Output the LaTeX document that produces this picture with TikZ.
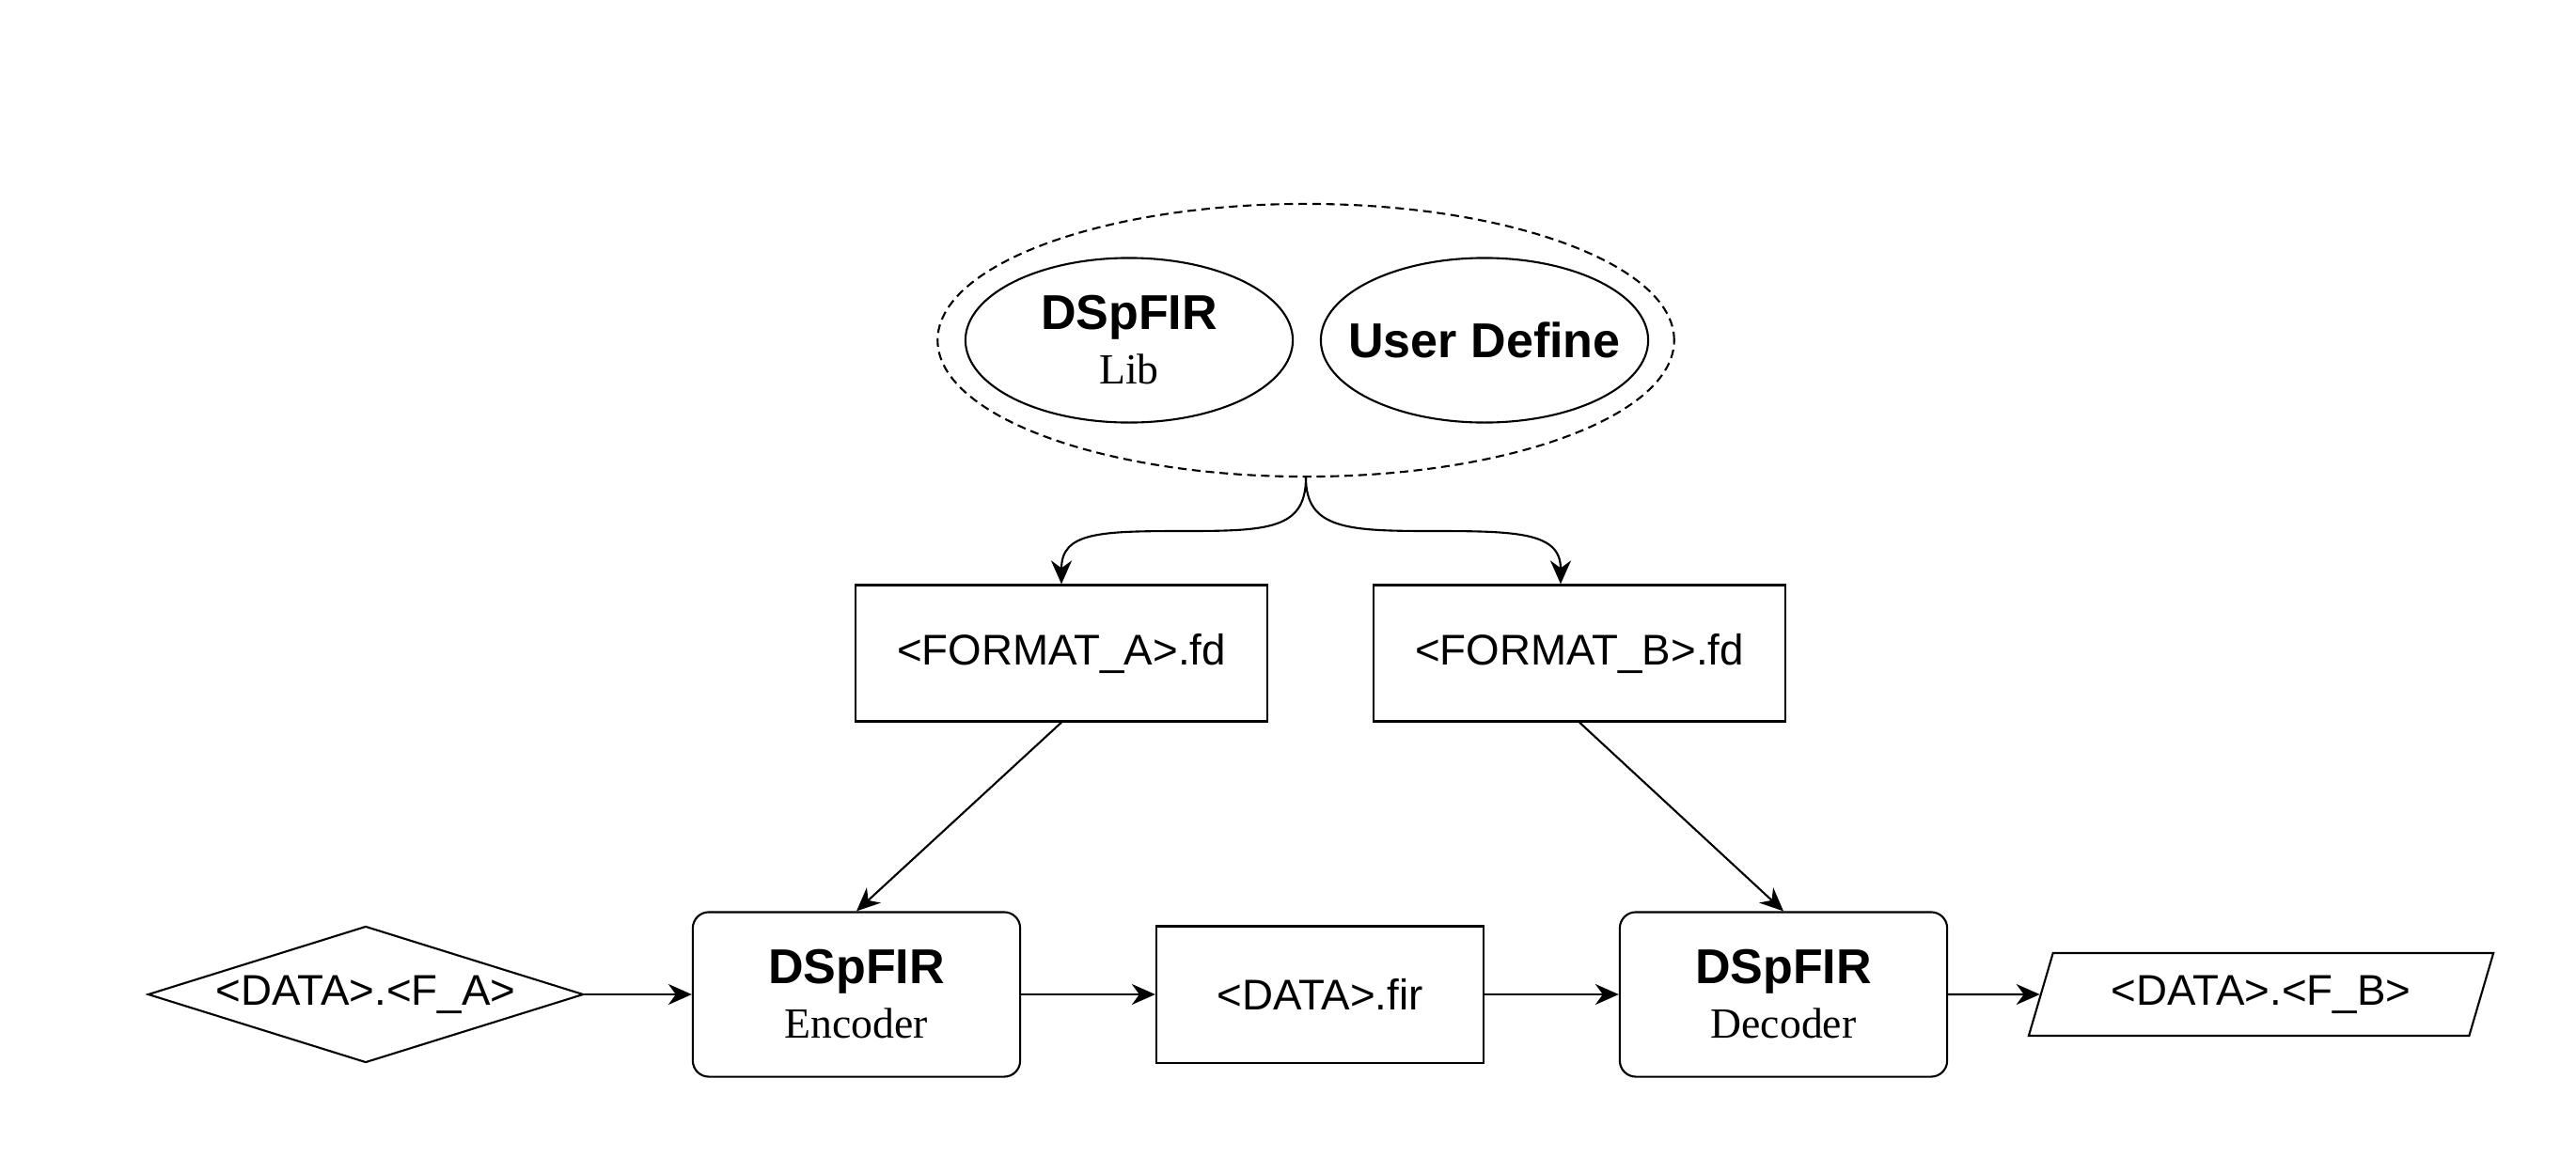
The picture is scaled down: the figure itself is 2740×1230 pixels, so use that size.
\documentclass[tikz,border=0pt]{standalone}
\usepackage{fontspec}
\setmainfont{Liberation Sans}
\newfontfamily\serifface{Liberation Serif}
\usetikzlibrary{shapes,shapes.geometric,arrows.meta}

\begin{document}
\begin{tikzpicture}[x=0.01cm,y=-0.01cm,line width=0.6pt,
		>={Stealth[length=0.25cm,width=0.22cm,inset=0.08cm]},
		every node/.style={font=\fontsize{13}{16.5}\selectfont,align=center,inner sep=0pt},
		libellipse/.style={draw,ellipse,inner xsep=-0.6cm,minimum width=3.48cm,minimum height=1.75cm},
		fdbox/.style={draw,rectangle,minimum width=4.37cm,minimum height=1.45cm},
		codecbox/.style={draw,rectangle,rounded corners=0.17cm,minimum width=3.48cm,minimum height=1.75cm}]
			\useasboundingbox (0,0) rectangle (2740,1230);
			% libraries
			\node[draw,ellipse,dashed,dash pattern=on 2.6pt off 1.6pt,minimum width=7.83cm,minimum height=2.9cm] (libgroup) at (1389,362) {};
			\node[libellipse] (lib) at (1201,362) {{\fontsize{14.8}{16.5}\selectfont\bfseries DSpFIR}\\{\serifface Lib}};
			\node[libellipse] (user) at (1579,362) {\fontsize{14.8}{16.5}\selectfont\bfseries User Define};
			% format descriptions
			\node[fdbox] (fmta) at (1129,695) {<FORMAT\_A>.fd};
			\node[fdbox] (fmtb) at (1680,695) {<FORMAT\_B>.fd};
			\coordinate (benda) at (1259,565);
			\coordinate (bendb) at (1524,565);
			\draw[->] (libgroup.south) .. controls +(0,55) and +(90,0) .. (benda) .. controls +(-90,0) and +(0,-55) .. (fmta.north);
			\draw[->] (libgroup.south) .. controls +(0,55) and +(-90,0) .. (bendb) .. controls +(90,0) and +(0,-55) .. ([xshift=-0.2cm]fmtb.north);
			% data flow
			\node[draw,diamond,aspect=3.19,minimum width=4.63cm,minimum height=1.45cm] (dataa) at (389,1058) {<DATA>.<F\_A>};
			\node[codecbox] (enc) at (911,1058) {{\fontsize{14.8}{16.5}\selectfont\bfseries DSpFIR}\\{\serifface Encoder}};
			\node[draw,rectangle,minimum width=3.48cm,minimum height=1.45cm] (fir) at (1404,1058) {<DATA>.fir};
			\node[codecbox] (dec) at (1897,1058) {{\fontsize{14.8}{16.5}\selectfont\bfseries DSpFIR}\\{\serifface Decoder}};
			\node[draw,trapezium,trapezium left angle=57.5,trapezium right angle=122.5,trapezium stretches body,minimum width=4.94cm,minimum height=0.88cm] (datab) at (2405,1058) {<DATA>.<F\_B>};
			\draw[->] (fmta.south) -- (enc.north);
			\draw[->] (fmtb.south) -- (dec.north);
			\draw[->] (dataa.east) -- (enc.west);
			\draw[->] (enc.east) -- (fir.west);
			\draw[->] (fir.east) -- (dec.west);
			\draw[->] (dec.east) -- (datab);
		\end{tikzpicture}
\end{document}
